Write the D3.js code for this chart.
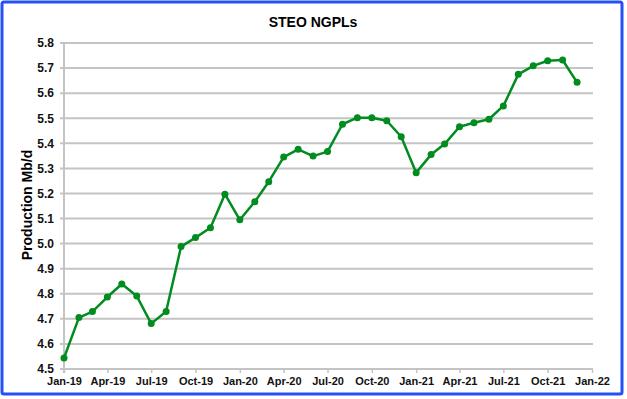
<!DOCTYPE html>
<html>
<head>
<meta charset="utf-8">
<script src="https://cdn.jsdelivr.net/npm/d3@7"></script>
<style>
  body { margin: 0; background: #fff; }
  text { font-family: "Liberation Sans", Arial, sans-serif; font-weight: bold; }
</style>
</head>
<body>
<div id="chart"></div>
<script>
  // monthly STEO NGPL production, Mb/d
  const months = ["2019-01", "2019-02", "2019-03", "2019-04", "2019-05", "2019-06",
    "2019-07", "2019-08", "2019-09", "2019-10", "2019-11", "2019-12",
    "2020-01", "2020-02", "2020-03", "2020-04", "2020-05", "2020-06",
    "2020-07", "2020-08", "2020-09", "2020-10", "2020-11", "2020-12",
    "2021-01", "2021-02", "2021-03", "2021-04", "2021-05", "2021-06",
    "2021-07", "2021-08", "2021-09", "2021-10", "2021-11", "2021-12"];

  const production = [4.544, 4.705, 4.729, 4.787, 4.839, 4.791,
    4.681, 4.729, 4.988, 5.024, 5.063, 5.197,
    5.095, 5.167, 5.247, 5.345, 5.376, 5.349,
    5.367, 5.476, 5.502, 5.502, 5.490, 5.426,
    5.283, 5.355, 5.397, 5.466, 5.482, 5.496,
    5.549, 5.675, 5.709, 5.729, 5.732, 5.643];

  const yTicks = [4.5, 4.6, 4.7, 4.8, 4.9, 5.0, 5.1, 5.2, 5.3, 5.4, 5.5, 5.6, 5.7, 5.8];

  const W = 627, H = 399;
  const margin = { top: 43, right: 35, bottom: 30, left: 64 };
  const width = 592 - margin.left,
    height = 369 - margin.top;

  const parse = d3.timeParse("%Y-%m");
  const data = months.map((m, i) => ({ date: parse(m), value: production[i] }));

  const svg = d3.select("#chart")
    .append("svg")
    .attr("width", W)
    .attr("height", H);

  // blue frame of the chart
  svg.append("rect")
    .attr("x", 2)
    .attr("y", 2)
    .attr("width", 620)
    .attr("height", 392)
    .attr("rx", 2)
    .attr("fill", "#fff")
    .attr("stroke", "#2450f5")
    .attr("stroke-width", 3);

  svg.append("text")
    .attr("x", 313)
    .attr("y", 27)
    .attr("text-anchor", "middle")
    .style("font-size", "14px")
    .text("STEO NGPLs");

  const g = svg.append("g")
    .attr("transform", `translate(${margin.left},${margin.top})`);

  const x = d3.scaleTime()
    .domain([parse("2019-01"), parse("2022-01")])
    .range([0, width]);

  const y = d3.scaleLinear()
    .domain([4.5, 5.8])
    .range([height, 0]);

  // gridlines
  g.append("g")
    .selectAll("line")
    .data(yTicks)
    .enter()
    .append("line")
    .attr("x1", -4)
    .attr("x2", width + 1)
    .attr("y1", d => y(d))
    .attr("y2", d => y(d))
    .attr("stroke", "#c4c4c4")
    .attr("stroke-width", 2);

  const yAxis = g.append("g")
    .call(d3.axisLeft(y).tickValues(yTicks).tickFormat(d3.format(".1f")).tickSize(0).tickPadding(10));
  yAxis.select(".domain").remove();
  yAxis.selectAll("text").style("font-size", "12px").attr("fill", "#111");

  g.append("line")
    .attr("x1", 0).attr("x2", 0)
    .attr("y1", 0).attr("y2", height + 4)
    .attr("stroke", "#c4c4c4")
    .attr("stroke-width", 2);

  const xAxis = g.append("g")
    .attr("transform", `translate(0,${height})`)
    .call(d3.axisBottom(x).ticks(d3.timeMonth.every(3)).tickFormat(d3.timeFormat("%b-%y")).tickSize(4).tickPadding(4));
  xAxis.select(".domain").remove();
  xAxis.selectAll("line").attr("stroke", "#c4c4c4").attr("stroke-width", 1.5);
  xAxis.selectAll("text").style("font-size", "11px").attr("fill", "#111");

  svg.append("text")
    .attr("transform", "translate(32,205) rotate(-90)")
    .attr("text-anchor", "middle")
    .style("font-size", "14px")
    .text("Production Mb/d");

  const line = d3.line()
    .x(d => x(d.date))
    .y(d => y(d.value));

  g.append("path")
    .datum(data)
    .attr("fill", "none")
    .attr("stroke", "#008c1e")
    .attr("stroke-width", 2.5)
    .attr("stroke-linejoin", "round")
    .attr("d", line);

  g.selectAll("circle")
    .data(data)
    .enter()
    .append("circle")
    .attr("cx", d => x(d.date))
    .attr("cy", d => y(d.value))
    .attr("r", 3.5)
    .attr("fill", "#008c1e");
</script>
</body>
</html>
